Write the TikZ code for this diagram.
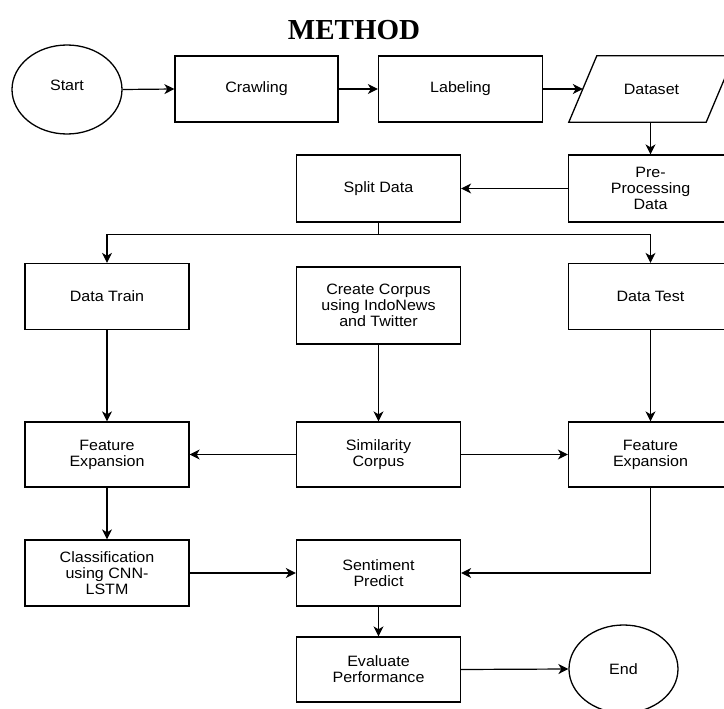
\documentclass[tikz,border=0pt]{standalone}
\usepackage{fontspec}
\usetikzlibrary{shapes.geometric,arrows.meta}
\newfontfamily\labfont[FakeStretch=1.07]{Liberation Sans}
\newfontfamily\titlefont{Liberation Serif}
\begin{document}
\begin{tikzpicture}[x=1pt,y=-1pt,
  every node/.style={inner sep=0pt},
  box/.style={draw, line width=1.3pt, minimum width=164pt, minimum height=66pt, align=center, font=\labfont\fontsize{15}{16}\selectfont},
  oval/.style={draw, ellipse, line width=1.3pt, align=center, font=\labfont\fontsize{15}{16}\selectfont},
  arr/.style={line width=1.2pt, -{Stealth[length=10pt,width=10pt,inset=3pt]}},
  ln/.style={line width=1.2pt}]
\useasboundingbox (0,0) rectangle (724,709);
\node[font=\titlefont\bfseries\fontsize{29}{32}\selectfont] (title) at (354,30) {METHOD};
% row 1
\node[oval, minimum width=110pt, minimum height=89pt] (start) at (67,89.5) {\raisebox{9pt}{Start}};
\node[box, minimum width=163pt] (crawl) at (256.5,89) {Crawling};
\node[box] (label) at (460.5,89) {Labeling};
\node[minimum width=137pt, minimum height=66pt, font=\labfont\fontsize{15}{16}\selectfont] (data) at (651.5,89) {Dataset};
\draw[line width=1.3pt] ([xshift=-14pt]data.south west) -- ([xshift=-14pt]data.south east) -- ([xshift=14pt]data.north east) -- ([xshift=14pt]data.north west) -- cycle;
% row 2
\node[box, minimum height=67pt] (split) at (378.5,188.5) {Split Data};
\node[box, minimum height=67pt] (pre) at (650.5,188.5) {Pre-\\Processing\\Data};
% row 3
\node[box] (train) at (107,296.5) {Data Train};
\node[box, minimum height=77pt] (corpus) at (378.5,305.5) {Create Corpus\\using IndoNews\\and Twitter};
\node[box] (test) at (650.5,296.5) {Data Test};
% row 4
\node[box, minimum height=65pt] (feL) at (107,454.5) {Feature\\Expansion};
\node[box, minimum height=65pt] (sim) at (378.5,454.5) {Similarity\\Corpus};
\node[box, minimum height=65pt] (feR) at (650.5,454.5) {Feature\\Expansion};
% row 5
\node[box] (cls) at (107,573) {Classification\\using CNN-\\LSTM};
\node[box] (sent) at (378.5,573) {Sentiment\\Predict};
% row 6
\node[box, minimum height=65pt] (eval) at (378.5,669.5) {Evaluate\\Performance};
\node[oval, minimum width=109pt, minimum height=88pt] (end) at (623.5,669) {End};
% connectors
\draw[arr] (start.east) -- (crawl.west);
\draw[arr] (crawl.east) -- (label.west);
\draw[arr] (label.east) -- (data.west);
\draw[arr] (data.south -| pre.north) -- (pre.north);
\draw[arr] (pre.west) -- (split.east);
\draw[ln] (split.south) -- ++(0,11.5) coordinate (sj);
\draw[arr] (sj) -| (train.north);
\draw[arr] (sj) -| (test.north);
\draw[arr] (train.south) -- (feL.north);
\draw[arr] (corpus.south) -- (sim.north);
\draw[arr] (test.south) -- (feR.north);
\draw[arr] (sim.west) -- (feL.east);
\draw[arr] (sim.east) -- (feR.west);
\draw[arr] (feL.south) -- (cls.north);
\draw[arr, line width=2pt] (cls.east) -- (sent.west);
\draw[arr] (feR.south) |- (sent.east);
\draw[arr] (sent.south) -- (eval.north);
\draw[arr] (eval.east) -- (end.west);
\end{tikzpicture}
\end{document}
